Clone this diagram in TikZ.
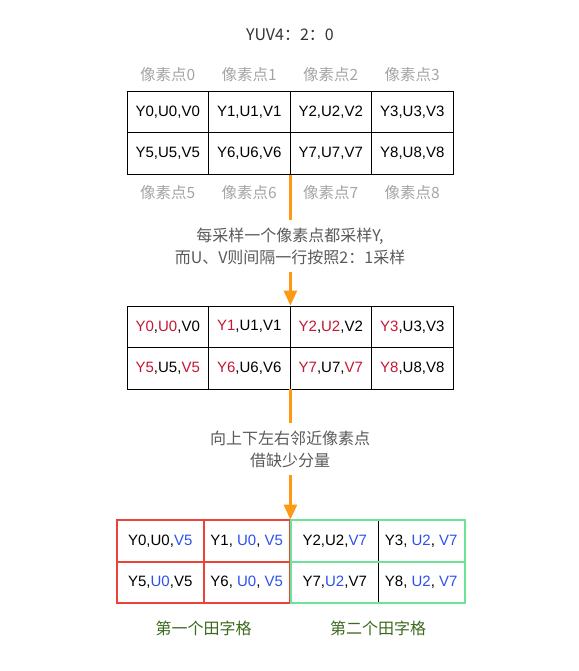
\documentclass[tikz,border=0pt]{standalone}
\usepackage{fontspec}
\setmainfont{Liberation Sans}
\newfontfamily\cjk{Noto Sans CJK SC}
\usetikzlibrary{arrows.meta}
\definecolor{floworange}{RGB}{255,152,20}
\definecolor{smpred}{RGB}{196,22,52}
\definecolor{brwblue}{RGB}{45,80,235}
\definecolor{grpred}{RGB}{234,68,58}
\definecolor{grpgreen}{RGB}{110,226,150}
\definecolor{grptext}{RGB}{60,105,30}
\definecolor{notegray}{RGB}{90,90,90}
\definecolor{pixgray}{RGB}{165,165,165}
\def\smp#1{\textcolor{smpred}{#1}}
\def\brw#1{\textcolor{brwblue}{#1}}
\tikzset{
  cell/.style={draw=black, line width=0.8pt, minimum width=81.5pt, minimum height=41.5pt, inner sep=0pt, font=\fontsize{15}{18}\selectfont},
  groupcell/.style={cell, draw=none, minimum width=86.5pt},
  redgrid/.style={draw=grpred, line width=2pt},
  greengrid/.style={draw=grpgreen, line width=2pt},
  pixlabel/.style={text=pixgray, font=\cjk\fontsize{15.5}{18}\selectfont},
  note/.style={fill=white, text=notegray, align=center, inner sep=8pt, font=\cjk\fontsize{16}{22}\selectfont},
  grouplabel/.style={text=grptext, font=\cjk\fontsize{16}{19}\selectfont},
  flow/.style={draw=floworange, line width=2.5pt, -{Triangle[width=13pt,length=15pt]}},
}
\begin{document}
\begin{tikzpicture}[x=1pt, y=-1pt]
		\useasboundingbox (0, 0) rectangle (578, 671);
		
		\node[font=\cjk\fontsize{16}{19}\selectfont, text=black!80] (title) at (290, 35) {YUV4：2：0};
		
		%%%%% original pixels %%%%%
		\node[pixlabel] (l0) at (167.75, 75) {像素点0};
		\node[pixlabel] (l1) at (249.25, 75) {像素点1};
		\node[pixlabel] (l2) at (330.75, 75) {像素点2};
		\node[pixlabel] (l3) at (412.25, 75) {像素点3};
		
		\node[cell] (p0) at (167.75, 112) {Y0,U0,V0};
		\node[cell] (p1) at (249.25, 112) {Y1,U1,V1};
		\node[cell] (p2) at (330.75, 112) {Y2,U2,V2};
		\node[cell] (p3) at (412.25, 112) {Y3,U3,V3};
		\node[cell] (p5) at (167.75, 153.5) {Y5,U5,V5};
		\node[cell] (p6) at (249.25, 153.5) {Y6,U6,V6};
		\node[cell] (p7) at (330.75, 153.5) {Y7,U7,V7};
		\node[cell] (p8) at (412.25, 153.5) {Y8,U8,V8};
		
		\node[pixlabel] (l5) at (167.75, 193) {像素点5};
		\node[pixlabel] (l6) at (249.25, 193) {像素点6};
		\node[pixlabel] (l7) at (330.75, 193) {像素点7};
		\node[pixlabel] (l8) at (412.25, 193) {像素点8};
		
		%%%%% sampled %%%%%
		\node[cell] (q0) at (167.75, 326.75) {\smp{Y0},\smp{U0},V0};
		\node[cell] (q1) at (249.25, 326.75) {\smp{Y1},U1,V1};
		\node[cell] (q2) at (330.75, 326.75) {\smp{Y2},\smp{U2},V2};
		\node[cell] (q3) at (412.25, 326.75) {\smp{Y3},U3,V3};
		\node[cell] (q5) at (167.75, 368.25) {\smp{Y5},U5,\smp{V5}};
		\node[cell] (q6) at (249.25, 368.25) {\smp{Y6},U6,V6};
		\node[cell] (q7) at (330.75, 368.25) {\smp{Y7},U7,\smp{V7}};
		\node[cell] (q8) at (412.25, 368.25) {\smp{Y8},U8,V8};
		
		%%%%% restored %%%%%
		\node[groupcell] (r0) at (160.25, 540.75) {Y0,U0,\brw{V5}};
		\node[groupcell] (r1) at (246.75, 540.75) {Y1, \brw{U0}, \brw{V5}};
		\node[groupcell] (r5) at (160.25, 582.25) {Y5,\brw{U0},V5};
		\node[groupcell] (r6) at (246.75, 582.25) {Y6, \brw{U0}, \brw{V5}};
		\node[groupcell] (r2) at (334.75, 540.75) {Y2,U2,\brw{V7}};
		\node[groupcell] (r3) at (421.25, 540.75) {Y3, \brw{U2}, \brw{V7}};
		\node[groupcell] (r7) at (334.75, 582.25) {Y7,\brw{U2},V7};
		\node[groupcell] (r8) at (421.25, 582.25) {Y8, \brw{U2}, \brw{V7}};
		
		\draw[redgrid] (r0.north west) rectangle (r6.south east)
			(r0.north east) -- (r5.south east)
			(r0.south west) -- (r1.south east);
		\draw[line width=1.2pt] (r2.north east) -- (r7.south east);
		\draw[greengrid] (r2.north west) rectangle (r8.south east)
			(r2.south west) -- (r3.south east);
		
		\node[grouplabel] (g1) at (203.5, 628) {第一个田字格};
		\node[grouplabel] (g2) at (378, 628) {第二个田字格};
		
		%%%%% arrows %%%%%
		\draw[flow] (p6.south east) -- (q1.north east);
		\draw[flow] (q6.south east) -- (r1.north east);
		
		\node[note] (n1) at (290, 246) {每采样一个像素点都采样Y,\\而U、V则间隔一行按照2：1采样};
		\node[note] (n2) at (290, 449) {向上下左右邻近像素点\\借缺少分量};
		
	\end{tikzpicture}
\end{document}
